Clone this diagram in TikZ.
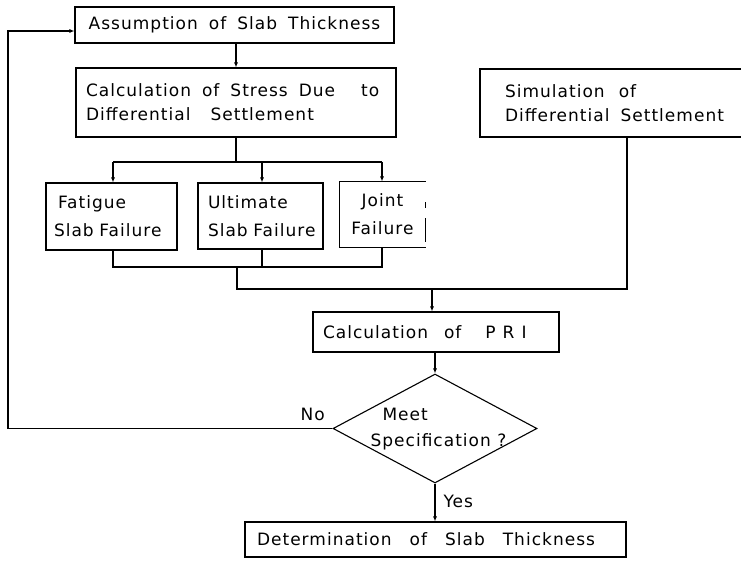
\documentclass[tikz,border=0pt]{standalone}
\usepackage{fontspec}
\setmainfont{DejaVu Sans}[LetterSpace=6]
\usetikzlibrary{shapes.geometric,arrows.meta}
\newcommand{\wsp}{\hspace{11pt}}
\begin{document}
\begin{tikzpicture}[x=1pt,y=-1pt,line width=1.1pt,
  box/.style={draw,rectangle,inner sep=0pt,font=\fontsize{17}{24}\selectfont},
  lbl/.style={anchor=base west,inner sep=0pt,font=\fontsize{17}{24}\selectfont},
  arr/.style={-{Latex[length=5pt,width=4pt]}}]
\useasboundingbox (0,0) rectangle (741,561);

% boxes
\node[box,minimum width=319pt,minimum height=36pt] (a1) at (234.5,25)
  {Assumption\wsp of\wsp Slab\wsp Thickness};
\node[box,text width=300pt,inner xsep=10pt,minimum height=69pt,align=left] (a2) at (236,102.5)
  {\mbox{Calculation\wsp of\wsp Stress\wsp Due\hspace{26pt}to}\\\mbox{Differential\hspace{20pt}Settlement}};
\node[box,text width=216pt,inner xsep=25pt,minimum height=68pt,align=left] (sim) at (613,103)
  {\mbox{Simulation\hspace{14pt}of}\\\mbox{Differential\wsp Settlement}};
\node[box,text width=115pt,inner xsep=8pt,minimum height=67pt,align=left,
  font=\fontsize{17}{28}\selectfont] (fat) at (111.5,216.5)
  {\mbox{\hspace{4pt}Fatigue}\\\mbox{Slab Failure}};
\node[box,text width=105pt,inner xsep=10pt,minimum height=66pt,align=left,
  font=\fontsize{17}{28}\selectfont] (ult) at (260.5,216)
  {\mbox{Ultimate}\\\mbox{Slab Failure}};
\node[rectangle,inner sep=0pt,text width=69pt,inner xsep=8pt,minimum height=65pt,align=center,
  font=\fontsize{17}{28}\selectfont] (joint) at (382.5,214.5)
  {\mbox{Joint}\\\mbox{Failure}};
\draw (joint.north east) -- (joint.north west) -- (joint.south west) -- (joint.south east);
\draw ([yshift=12pt]joint.east) -- ([yshift=6pt]joint.east);
\draw ([yshift=-4pt]joint.east) -- ([yshift=-28pt]joint.east);
\node[box,text width=226pt,inner xsep=10pt,minimum height=40pt,align=left] (pri) at (436,332)
  {\mbox{Calculation\hspace{16pt}of\hspace{24pt}P\hspace{7pt}R\hspace{7pt}I}};
\node[draw,diamond,minimum width=204pt,minimum height=109pt,inner sep=0pt] (dia) at (435,428.5) {};
\node[lbl] (meet) at (382,420) {Meet};
\node[lbl] (spec) at (370,446) {Specification ?};
\node[lbl] (no) at (300,420) {No};
\node[lbl] (yes) at (443,507) {Yes};
\node[box,text width=357pt,inner xsep=12pt,minimum height=35pt,align=left] (fin) at (435.5,539.5)
  {\mbox{Determination\hspace{18pt}of\hspace{18pt}Slab\hspace{18pt}Thickness}};

% coordinates
\coordinate (br) at (236,162);
\coordinate (b1) at (113,162);
\coordinate (b2) at (262,162);
\coordinate (b3) at (382,162);
\coordinate (m1) at (113,267);
\coordinate (m2) at (262,267);
\coordinate (m3) at (382,267);
\coordinate (mc) at (237,267);
\coordinate (n1) at (237,289);
\coordinate (n2) at (627,289);
\coordinate (np) at (432,289);
\coordinate (fb) at (8,31);

% connectors
\draw[arr] (a1.south -| a2.north) -- (a2.north);
\draw (a2.south) -- (br);
\draw (b1) -- (b3);
\draw[arr] (b1) -- (b1 |- fat.north);
\draw[arr] (b2) -- (b2 |- ult.north);
\draw[arr] (b3) -- (b3 |- joint.north);
\draw (m1 |- fat.south) -- (m1) -- (m3) -- (m3 |- joint.south);
\draw (m2 |- ult.south) -- (m2);
\draw (mc) -- (n1) -- (n2) -- (n2 |- sim.south);
\draw[arr] (np) -- (np |- pri.north);
\draw[arr] (pri.south -| dia.north) -- (dia.north);
\draw[arr] (dia.south) -- (dia.south |- fin.north);
\draw[arr] (dia.west) -- (dia.west -| fb) -- (fb) -- (fb -| a1.west);
\end{tikzpicture}
\end{document}
